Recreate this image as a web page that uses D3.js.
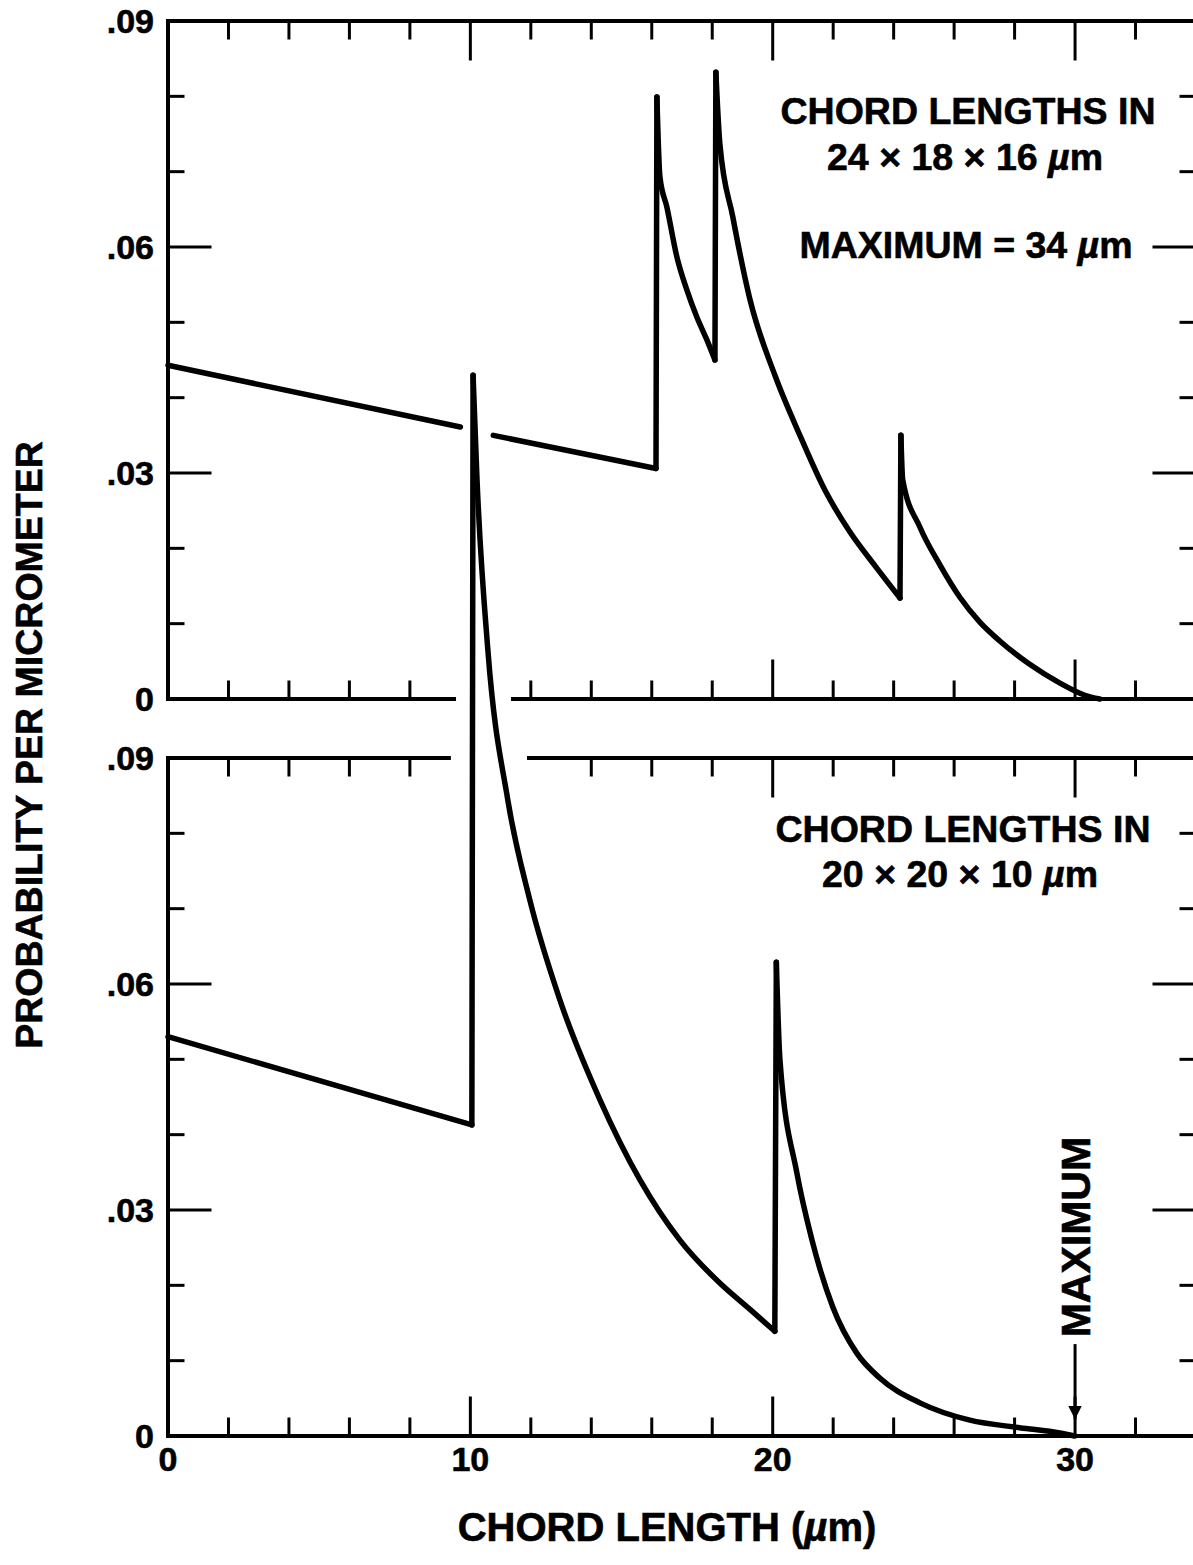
<!DOCTYPE html>
<html>
<head>
	<meta charset="UTF-8">
	<script src="https://d3js.org/d3.v7.min.js"></script>
	<title>Chord length distributions</title>
	<style>
		body { margin: 0; background: #fff; }
		text { font-family: "Liberation Sans", Arial, sans-serif; font-weight: bold; fill: #000; stroke: #000; stroke-width: 0.6; }
	</style>
</head>
<body>
	<svg></svg>
	<script type="text/javascript">
		const width = 1193;
		const height = 1565;

		// chord length (um) and probability per micrometer, 24 x 18 x 16 um box
		const topX = [0, 9.67, null, 10.76, 16.14, 16.17, 16.27, 16.5, 16.83, 17.16, 17.49, 17.82, 18.09,
			18.12, 18.25, 18.68, 19.25, 20.07, 20.9, 21.73, 22.55, 23.38, 24.21,
			24.24, 24.3, 24.87, 25.53, 26.19, 26.85, 27.51, 28.5, 29.5, 30.32, 30.82];
		const topY = [0.0443, 0.0361, null, 0.0350, 0.0306, 0.0799, 0.0693, 0.0653, 0.0587, 0.0543, 0.0507, 0.0477, 0.0450,
			0.0832, 0.0738, 0.0640, 0.0530, 0.0430, 0.0350, 0.0277, 0.0222, 0.0177, 0.0134,
			0.0350, 0.0291, 0.0228, 0.0178, 0.0135, 0.0102, 0.0077, 0.0046, 0.0021, 0.0005, 0];

		// 20 x 20 x 10 um box
		const botX = [0, 10.05, 10.09, 10.22, 10.58, 11.24, 11.97, 12.96, 14.29, 15.61, 16.93, 18.25, 19.25, 20.07,
			20.12, 20.24, 20.8, 21.3, 21.99, 22.78, 23.54, 24.87, 26.52, 28.17, 29.5, 29.99];
		const botY = [0.053, 0.0413, 0.1408, 0.127, 0.1043, 0.0844, 0.0711, 0.0579, 0.0446, 0.034, 0.0260, 0.0203, 0.0168, 0.0139,
			0.0629, 0.0499, 0.0349, 0.0260, 0.0171, 0.0110, 0.0077, 0.0044, 0.0021, 0.0011, 0.0004, 0];

		const xMajor = [0, 10, 20, 30];
		const xMinor = [2, 4, 6, 8, 12, 14, 16, 18, 22, 24, 26, 28, 32];
		const yMajor = [0, 0.03, 0.06, 0.09];
		const yMinor = [0.01, 0.02, 0.04, 0.05, 0.07, 0.08];

		// where the tall spike of the lower curve cuts the frames between panels
		const topFrameGap = [9.46, 11.41];
		const botFrameGap = [9.29, 11.94];

		const x = d3.scaleLinear().domain([0, 34]).range([168, 1196]);
		const yTop = d3.scaleLinear().domain([0, 0.09]).range([699, 21]);
		const yBot = d3.scaleLinear().domain([0, 0.09]).range([1436, 758]);

		const svg = d3.select("svg")
			.attr("width", width)
			.attr("height", height)
			.attr("viewBox", [0, 0, width, height]);

		svg.append("rect").attr("width", width).attr("height", height).attr("fill", "#fff");

		const fmt = d => d === 0 ? "0" : d3.format(".2f")(d).replace(/^0/, "");

		// frame and ticks for one panel
		function panel(y, bottomGap, topGap) {
			const g = svg.append("g")
				.attr("stroke", "#000")
				.attr("stroke-linecap", "square");
			const x0 = x.range()[0], x1 = x.range()[1];
			const y0 = y.range()[0], y1 = y.range()[1];

			const hline = (yy, gap) => {
				const segs = gap ? [[0, gap[0]], [gap[1], 34]] : [[0, 34]];
				segs.forEach(s => g.append("line")
					.attr("x1", x(s[0])).attr("x2", x(s[1]))
					.attr("y1", yy).attr("y2", yy)
					.attr("stroke-width", 4));
			};
			hline(y0, bottomGap);
			hline(y1, topGap);
			g.append("line").attr("x1", x0).attr("x2", x0).attr("y1", y0).attr("y2", y1).attr("stroke-width", 4);
			g.append("line").attr("x1", x1).attr("x2", x1).attr("y1", y0).attr("y2", y1).attr("stroke-width", 4);

			const inGap = (v, gap) => gap && v > gap[0] - 0.3 && v < gap[1] + 0.3;
			const xt = (vals, len) => vals.forEach(v => {
				if (v === 0) return;
				if (!inGap(v, bottomGap))
					g.append("line").attr("x1", x(v)).attr("x2", x(v)).attr("y1", y0).attr("y2", y0 - len).attr("stroke-width", 3);
				if (!inGap(v, topGap))
					g.append("line").attr("x1", x(v)).attr("x2", x(v)).attr("y1", y1).attr("y2", y1 + len).attr("stroke-width", 3);
			});
			xt(xMajor, 38);
			xt(xMinor, 17);

			const yt = (vals, len) => vals.forEach(v => {
				if (v === 0 || v === 0.09) return;
				g.append("line").attr("x1", x0).attr("x2", x0 + len).attr("y1", y(v)).attr("y2", y(v)).attr("stroke-width", 3);
				g.append("line").attr("x1", x1).attr("x2", x1 - len).attr("y1", y(v)).attr("y2", y(v)).attr("stroke-width", 3);
			});
			yt(yMajor, 42);
			yt(yMinor, 15);

			svg.append("g").selectAll("text")
				.data(yMajor)
				.join("text")
				.attr("x", 154)
				.attr("y", d => y(d))
				.attr("dy", "0.36em")
				.attr("text-anchor", "end")
				.attr("font-size", 34)
				.text(fmt);
		}

		panel(yTop, topFrameGap, null);
		panel(yBot, null, botFrameGap);

		// x tick labels
		svg.append("g").selectAll("text")
			.data(xMajor)
			.join("text")
			.attr("x", d => x(d))
			.attr("y", 1471)
			.attr("text-anchor", "middle")
			.attr("font-size", 34)
			.text(d => d);

		// axis titles
		const xt = svg.append("text")
			.attr("x", 667)
			.attr("y", 1541)
			.attr("text-anchor", "middle")
			.attr("font-size", 40);
		xt.append("tspan").text("CHORD LENGTH (");
		xt.append("tspan").attr("font-style", "italic").text("µ");
		xt.append("tspan").text("m)");

		svg.append("text")
			.attr("transform", "translate(42,745) rotate(-90)")
			.attr("text-anchor", "middle")
			.attr("font-size", 37.5)
			.text("PROBABILITY PER MICROMETER");

		// panel captions
		const caption = (cx, cy, parts) => {
			const t = svg.append("text")
				.attr("x", cx).attr("y", cy)
				.attr("text-anchor", "middle")
				.attr("font-size", 37.5);
			parts.forEach(p => t.append("tspan").attr("font-style", p[1] ? "italic" : null).text(p[0]));
		};
		caption(968, 124, [["CHORD LENGTHS IN"]]);
		caption(965, 170, [["24 × 18 × 16 "], ["µ", true], ["m"]]);
		caption(966, 258, [["MAXIMUM = 34 "], ["µ", true], ["m"]]);
		caption(963, 842, [["CHORD LENGTHS IN"]]);
		caption(960, 887, [["20 × 20 × 10 "], ["µ", true], ["m"]]);

		// MAXIMUM arrow in the lower panel
		svg.append("defs").append("marker")
			.attr("id", "head")
			.attr("viewBox", "0 0 10 10")
			.attr("refX", 10).attr("refY", 5)
			.attr("markerWidth", 4.5).attr("markerHeight", 8)
			.attr("markerUnits", "strokeWidth")
			.attr("orient", "auto")
			.append("path").attr("d", "M0,0L10,5L0,10Z").attr("fill", "#000");

		svg.append("line")
			.attr("x1", x(30)).attr("x2", x(30))
			.attr("y1", yBot(0.0122)).attr("y2", yBot(0.0022))
			.attr("stroke", "#000").attr("stroke-width", 3)
			.attr("marker-end", "url(#head)");

		svg.append("text")
			.attr("transform", `translate(${x(30) + 15},${yBot(0.0131)}) rotate(-90)`)
			.attr("text-anchor", "start")
			.attr("font-size", 41)
			.text("MAXIMUM");

		// split a series into smooth runs; near-vertical jumps and gaps break the runs
		function runs(xs, ys) {
			const out = [];
			let cur = [];
			for (let i = 0; i < xs.length; i++) {
				if (xs[i] === null) { if (cur.length) out.push(cur); cur = []; continue; }
				const p = [xs[i], ys[i]];
				if (cur.length && p[0] - cur[cur.length - 1][0] < 0.06) {
					const prev = cur[cur.length - 1];
					out.push(cur);
					out.push([prev, p]);
					cur = [];
				}
				cur.push(p);
			}
			if (cur.length) out.push(cur);
			return out;
		}

		function drawSeries(xs, ys, y) {
			const line = d3.line()
				.x(d => x(d[0]))
				.y(d => y(d[1]))
				.curve(d3.curveMonotoneX);
			svg.append("g")
				.attr("fill", "none")
				.attr("stroke", "#000")
				.attr("stroke-width", 5.5)
				.attr("stroke-linejoin", "round")
				.attr("stroke-linecap", "round")
				.selectAll("path")
				.data(runs(xs, ys).filter(r => r.length > 1))
				.join("path")
				.attr("d", line);
		}

		drawSeries(topX, topY, yTop);
		drawSeries(botX, botY, yBot);
	</script>
</body>
</html>
